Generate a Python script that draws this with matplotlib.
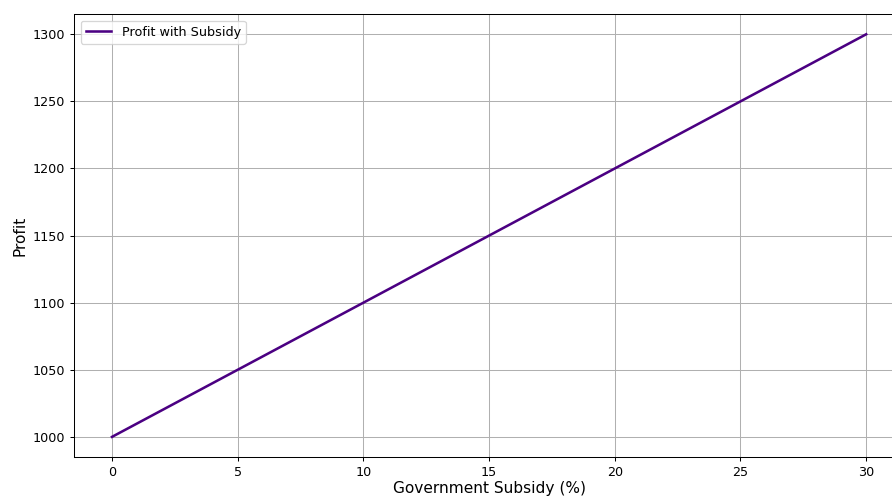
import matplotlib
matplotlib.use('Agg')
import matplotlib.pyplot as plt

# 数据
subsidy = [0, 5, 10, 15, 20, 25, 30]
profit = [1000, 1050, 1100, 1150, 1200, 1250, 1300]

# 92 dpi so that text and lines come out at the reference's slightly reduced scale
fig = plt.figure(figsize=(892 / 92, 497 / 92), dpi=92)
# axes extends slightly past the right edge, as in the reference
ax = fig.add_axes([0.0833, 0.0805, 0.930, 0.891])

ax.plot(subsidy, profit, color='indigo', linewidth=2, label='Profit with Subsidy')

ax.set_xlabel('Government Subsidy (%)', fontsize=12, labelpad=2)
ax.set_ylabel('Profit', fontsize=12)
ax.set_xticks([0, 5, 10, 15, 20, 25, 30])
ax.set_yticks([1000, 1050, 1100, 1150, 1200, 1250, 1300])
ax.grid(True)
ax.legend(loc='upper left')

fig.savefig('out.png', dpi=92)
